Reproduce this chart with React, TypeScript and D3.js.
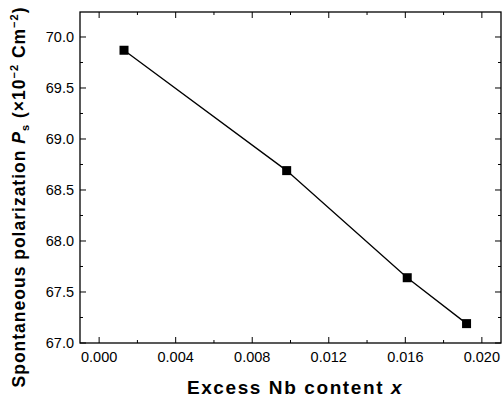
import * as d3 from 'd3'
import { useEffect, useRef } from 'react'

const nbContent = [0.0013, 0.0098, 0.0161, 0.0192]
const polarization = [69.87, 68.69, 67.64, 67.19]
const xTicks = [0.0, 0.004, 0.008, 0.012, 0.016, 0.02]
const yTicks = [67.0, 67.5, 68.0, 68.5, 69.0, 69.5, 70.0]

export default function App() {
  const svgRef = useRef<SVGSVGElement | null>(null)

  useEffect(() => {
    if (!svgRef.current) return
    const svg = d3.select(svgRef.current)
    svg.selectAll('*').remove()

    const left = 80, right = 501, top = 12, bottom = 343
    const font = '"Liberation Sans", Arial, sans-serif'

    const x = d3.scaleLinear().domain([-0.001, 0.021]).range([left, right])
    const y = d3.scaleLinear().domain([67.0, 70.245]).range([bottom, top])

    const minorX = d3.range(-0.0, 0.0205, 0.002)
    const minorY = d3.range(67.0, 70.25, 0.25)

    const g = svg.append('g')

    // frame
    g.append('rect')
      .attr('x', left).attr('y', top)
      .attr('width', right - left).attr('height', bottom - top)
      .attr('fill', 'none').attr('stroke', '#000').attr('stroke-width', 1.3)

    // ticks point inward on all four sides
    minorX.forEach((v) => {
      const major = xTicks.some((t) => Math.abs(t - v) < 1e-9)
      const len = major ? 6 : 3
      g.append('line').attr('x1', x(v)).attr('x2', x(v))
        .attr('y1', bottom).attr('y2', bottom - len).attr('stroke', '#000')
      g.append('line').attr('x1', x(v)).attr('x2', x(v))
        .attr('y1', top).attr('y2', top + len).attr('stroke', '#000')
    })
    minorY.forEach((v) => {
      const major = yTicks.some((t) => Math.abs(t - v) < 1e-9)
      const len = major ? 6 : 3
      g.append('line').attr('y1', y(v)).attr('y2', y(v))
        .attr('x1', left).attr('x2', left + len).attr('stroke', '#000')
      g.append('line').attr('y1', y(v)).attr('y2', y(v))
        .attr('x1', right).attr('x2', right - len).attr('stroke', '#000')
    })

    g.selectAll('text.xt')
      .data(xTicks)
      .join('text')
      .attr('x', (d) => x(d))
      .attr('y', bottom + 19)
      .attr('text-anchor', 'middle')
      .style('font-family', font)
      .style('font-size', '14.5px')
      .text((d) => d3.format('.3f')(d))

    g.selectAll('text.yt')
      .data(yTicks)
      .join('text')
      .attr('x', left - 6)
      .attr('y', (d) => y(d) + 5)
      .attr('text-anchor', 'end')
      .style('font-family', font)
      .style('font-size', '14.5px')
      .text((d) => d3.format('.1f')(d))

    const line = d3.line<number>()
      .x((_, i) => x(nbContent[i]))
      .y((d) => y(d))
    g.append('path')
      .datum(polarization)
      .attr('d', line)
      .attr('fill', 'none')
      .attr('stroke', '#000')
      .attr('stroke-width', 1.3)

    g.selectAll('rect.pt')
      .data(polarization)
      .join('rect')
      .attr('x', (_, i) => x(nbContent[i]) - 4.5)
      .attr('y', (d) => y(d) - 4.5)
      .attr('width', 9)
      .attr('height', 9)
      .attr('fill', '#000')

    // x title
    const xt = g.append('text')
      .attr('x', 295)
      .attr('y', 394)
      .attr('text-anchor', 'middle')
      .style('font-family', font)
      .style('font-size', '19px')
      .style('font-weight', 'bold')
      .style('letter-spacing', '1.6px')
    xt.append('tspan').text('Excess Nb content ')
    xt.append('tspan').attr('font-style', 'italic').text('x')

    // y title
    const yt = g.append('text')
      .attr('transform', 'translate(25,197) rotate(-90)')
      .attr('text-anchor', 'middle')
      .style('font-family', font)
      .style('font-size', '17.5px')
      .style('font-weight', 'bold')
      .style('letter-spacing', '1px')
    yt.append('tspan').text('Spontaneous polarization ')
    yt.append('tspan').attr('font-style', 'italic').text('P')
    yt.append('tspan').attr('font-size', '11px').attr('dy', 4).text('s')
    yt.append('tspan').attr('dy', -4).text(' (×10')
    yt.append('tspan').attr('font-size', '11px').attr('dy', -7).text('−2')
    yt.append('tspan').attr('dy', 7).text(' Cm')
    yt.append('tspan').attr('font-size', '11px').attr('dy', -7).text('−2')
    yt.append('tspan').attr('dy', 7).text(')')
  }, [])

  return (
    <svg ref={svgRef} width={503} height={398}
      style={{ position: 'absolute', left: 0, top: 0, background: '#fff' }} />
  )
}
